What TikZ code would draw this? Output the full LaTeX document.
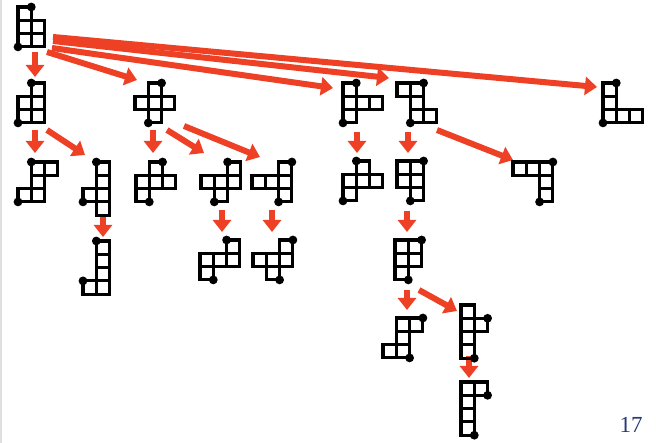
\documentclass[tikz,border=0pt]{standalone}
\usepackage{fontspec}
\setmainfont{Liberation Serif}
\usetikzlibrary{arrows.meta,calc,backgrounds}
\definecolor{piros}{RGB}{238,64,36}
\definecolor{sotetkek}{RGB}{40,58,118}
\newcommand{\oldal}{13.3}
\tikzset{
  negyzet/.style={draw,line width=3.1pt},
  lepes/.style={draw=piros,line width=6pt,-{Triangle[length=12pt,width=18pt]}},
}
% #1 name, #2 top-left corner, #3 cells (column/row), #4 dots (corner column/row)
\newcommand{\alak}[4]{%
  \begin{scope}[shift={#2}]
    \coordinate (#1) at (0,0);
    \foreach \i/\j in {#3}
      \draw[negyzet] ({\i*\oldal},{\j*\oldal}) rectangle +(\oldal,\oldal);
    \foreach \i/\j in {#4}
      \fill ({\i*\oldal},{\j*\oldal}) circle (4.4pt);
  \end{scope}
}

\begin{document}
\begin{tikzpicture}[x=1pt,y=-1pt]
  \useasboundingbox (0,0) rectangle (656,443);
  \draw[gray!25,line width=2pt] (1,0) -- (1,443);

  % first row
  \alak{r}{(18,7)}{0/0,0/1,1/1,0/2,1/2}{1/0,0/3}
  % second row
  \alak{a}{(18,83)}{1/0,0/1,1/1,0/2,1/2}{1/0,0/3}
  \alak{b}{(135,83)}{1/0,0/1,1/1,2/1,1/2}{2/0,1/3}
  \alak{c}{(343,83)}{0/0,0/1,1/1,2/1,0/2}{1/0,0/3}
  \alak{d}{(397,83)}{0/0,1/0,1/1,1/2,2/2}{2/0,1/3}
  \alak{e}{(603,83)}{0/0,0/1,0/2,1/2,2/2}{1/0,0/3}
  % third row
  \alak{aa}{(18,162)}{1/0,2/0,1/1,0/2,1/2}{1/0,0/3}
  \alak{ab}{(83,162)}{1/0,1/1,0/2,1/2,1/3}{1/0,0/3}
  \alak{ba}{(136,162)}{1/0,0/1,1/1,2/1,0/2}{2/0,1/3}
  \alak{bb}{(201,162)}{2/0,0/1,1/1,2/1,1/2}{2/0,1/3}
  \alak{bc}{(252,162)}{2/0,0/1,1/1,2/1,2/2}{3/0,2/3}
  \alak{ca}{(343,161)}{1/0,0/1,1/1,2/1,0/2}{1/0,0/3}
  \alak{da}{(397,161)}{0/0,1/0,0/1,1/1,1/2}{2/0,1/3}
  \alak{db}{(513,162)}{0/0,1/0,2/0,2/1,2/2}{3/0,2/3}
  % fourth row
  \alak{aba}{(83,241)}{1/0,1/1,1/2,0/3,1/3}{1/0,0/3}
  \alak{bba}{(200,240)}{2/0,0/1,1/1,2/1,0/2}{2/0,1/3}
  \alak{bca}{(253,240)}{2/0,0/1,1/1,2/1,1/2}{3/0,2/3}
  \alak{daa}{(395,240)}{0/0,1/0,0/1,1/1,0/2}{2/0,1/3}
  % lower rows
  \alak{daaa}{(383,318)}{1/0,2/0,1/1,0/2,1/2}{3/0,2/3}
  \alak{daab}{(461,305)}{0/0,0/1,1/1,0/2,0/3}{2/1,1/4}
  \alak{daaba}{(461,382)}{0/0,1/0,0/1,0/2,0/3}{2/1,1/4}

  % steps
  \begin{scope}[on background layer]
    \draw[lepes] ($(r)+(17,45)$) -- ($(a)+(17,-6)$);
    \draw[lepes] ($(r)+(29,45)$) -- ($(b)+(2,-3)$);
    \draw[lepes] ($(r)+(35,30)$) -- ($(e)+(-6,4)$);
    \draw[lepes] ($(r)+(35,34)$) -- ($(d)+(-8,-5)$);
    \draw[lepes] ($(r)+(34,41)$) -- ($(c)+(-10,5)$);
    \draw[lepes] ($(a)+(17,47)$) -- ($(aa)+(17,-9)$);
    \draw[lepes] ($(a)+(29,47)$) -- ($(ab)+(2,-7)$);
    \draw[lepes] ($(b)+(18,47)$) -- ($(ba)+(17,-9)$);
    \draw[lepes] ($(b)+(32,47)$) -- ($(bb)+(3,-9)$);
    \draw[lepes] ($(b)+(49,43)$) -- ($(bc)+(8,-5)$);
    \draw[lepes] ($(ab)+(20,53)$) -- ($(aba)+(20,-4)$);
    \draw[lepes] ($(bb)+(21,48)$) -- ($(bba)+(22,-8)$);
    \draw[lepes] ($(bc)+(20,48)$) -- ($(bca)+(19,-8)$);
    \draw[lepes] ($(c)+(14,49)$) -- ($(ca)+(14,-8)$);
    \draw[lepes] ($(d)+(11,49)$) -- ($(da)+(11,-8)$);
    \draw[lepes] ($(d)+(40,47)$) -- ($(db)+(0,-2)$);
    \draw[lepes] ($(da)+(10,50)$) -- ($(daa)+(12,-8)$);
    \draw[lepes] ($(daa)+(12,50)$) -- ($(daaa)+(24,-8)$);
    \draw[lepes] ($(daa)+(24,50)$) -- ($(daab)+(-4,6)$);
    \draw[lepes] ($(daab)+(8,51)$) -- ($(daaba)+(8,-4)$);
  \end{scope}

  \node[text=sotetkek,inner sep=0pt,font=\fontsize{23}{23}\selectfont] (lapszam) at (631,425) {17};
\end{tikzpicture}
\end{document}
